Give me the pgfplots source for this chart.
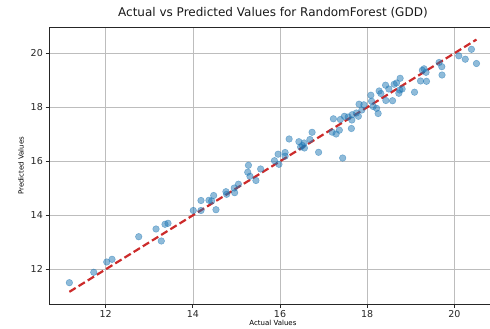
\documentclass[border=0pt]{standalone}
\usepackage{fontspec}
\setmainfont{DejaVu Sans}
\usepackage{pgfplots}
\pgfplotsset{compat=1.18}
\definecolor{c0}{HTML}{1F77B4}
\definecolor{cred}{HTML}{CC2B2B}
\definecolor{gridc}{HTML}{BDBDBD}
\begin{document}
\begin{tikzpicture}
\useasboundingbox (-49.02pt,-24.55pt) rectangle (440.98pt,304.45pt);
\begin{axis}[
  scale only axis, width=447.8pt, height=277.5pt,
  xmin=10.698, xmax=20.976, ymin=10.698, ymax=20.976,
  xtick={12,14,16,18,20}, ytick={12,14,16,18,20},
  tick align=outside, tick pos=left, major tick length=3.5pt,
  grid=major, major grid style={gridc, line width=0.7pt},
  axis line style={black!85, line width=0.8pt},
  every tick/.style={black!85, line width=0.8pt},
  ticklabel style={font=\fontsize{9.5}{11}\selectfont, black!85},
  xticklabel style={inner sep=2pt},
  yticklabel style={inner sep=2.5pt},
  /pgf/number format/assume math mode=true,
  title={Actual vs Predicted Values for RandomForest (GDD)},
  title style={font=\fontsize{12}{14}\selectfont, black!90, at={(axis description cs:0.5,1)}, anchor=base, yshift=4.5pt, inner sep=0pt},
  xlabel={Actual Values}, ylabel={Predicted Values},
  xlabel style={font=\fontsize{7}{8}\selectfont, at={(axis description cs:0.5,0)}, anchor=north, yshift=-15.5pt, inner sep=0pt},
  ylabel style={font=\fontsize{7}{8}\selectfont, at={(axis description cs:-0.0558,0.5)}, anchor=south, inner sep=0pt},
]
\addplot[only marks, color=c0, mark=*, mark size=3.3pt, mark options={draw=c0, fill=c0, fill opacity=0.5, draw opacity=0.5, line width=0.5pt}] table {
x y
11.165 11.504
11.725 11.889
12.023 12.270
12.144 12.370
12.757 13.207
13.154 13.493
13.275 13.048
13.360 13.667
13.429 13.704
14.009 14.178
14.186 14.548
14.186 14.178
14.369 14.556
14.477 14.733
14.431 14.530
14.530 14.207
14.759 14.874
14.775 14.778
14.959 14.837
14.950 15.011
15.046 15.152
15.275 15.852
15.259 15.596
15.310 15.444
15.447 15.289
15.555 15.715
15.872 16.022
15.956 16.263
15.975 15.889
16.117 16.326
16.117 16.189
16.209 16.826
16.433 16.726
16.472 16.530
16.553 16.678
16.560 16.493
16.686 16.807
16.736 17.074
16.885 16.333
17.225 17.574
17.197 17.078
17.287 17.011
17.362 17.152
17.385 17.548
17.477 17.667
17.438 16.122
17.638 17.215
17.649 17.530
17.656 17.726
17.798 17.667
17.814 18.115
17.924 18.093
17.878 17.900
18.085 18.448
18.101 18.226
18.138 18.030
18.216 17.963
18.252 17.770
18.275 18.604
18.314 18.511
18.422 18.819
18.429 18.252
18.583 18.244
18.498 18.678
18.619 18.852
18.674 18.900
18.757 19.074
18.750 18.641
18.803 18.678
18.727 18.519
19.087 18.559
19.225 18.974
19.266 19.370
19.305 19.426
19.362 18.963
19.351 19.296
19.651 19.659
19.713 19.504
19.718 19.196
20.103 19.907
20.252 19.781
20.394 20.148
20.509 19.622
17.564 17.641
17.752 17.789
16.514 16.585
};
\addplot[cred, line width=2.2pt, dash pattern=on 7.4pt off 3.4pt] coordinates {(11.165,11.165) (20.509,20.509)};
\end{axis}
\end{tikzpicture}
\end{document}
